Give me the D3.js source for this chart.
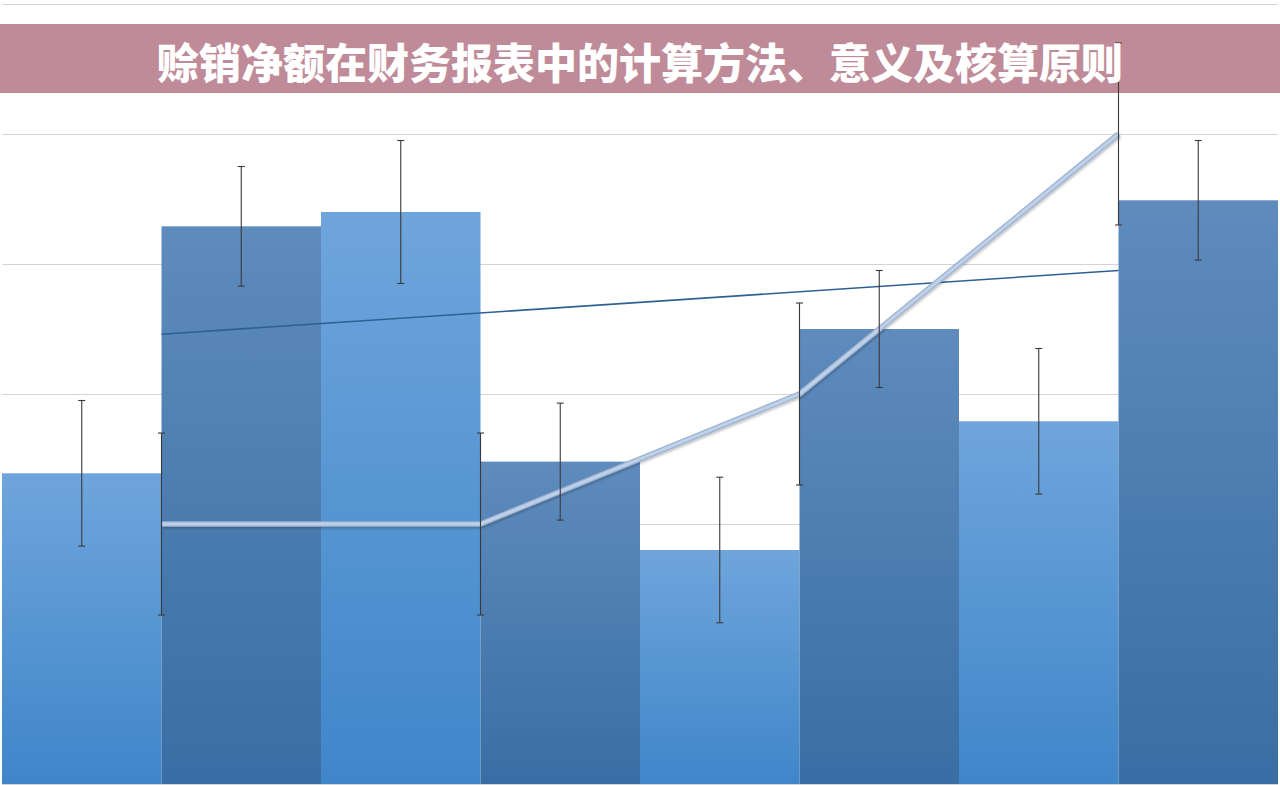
<!DOCTYPE html>
<html>
<head>
<meta charset="utf-8">
<script src="https://cdn.jsdelivr.net/npm/d3@7"></script>
<style>
  html, body { margin: 0; padding: 0; background: #fff; }
  svg { display: block; }
</style>
</head>
<body>
<div id="plot"></div>
<script>
// bar series, 8 columns
const categories = ['1', '2', '3', '4', '5', '6', '7', '8'];
const barValues = [2.39, 4.29, 4.4, 2.48, 1.8, 3.5, 2.79, 4.49];
const barErrors = [0.56, 0.46, 0.55, 0.45, 0.56, 0.45, 0.56, 0.46];

// line series sits on its own 4-step axis
const lineCategories = ['A', 'B', 'C', 'D'];
const lineValues = [2, 2, 3, 5];
const lineErrors = [0.7, 0.7, 0.7, 0.7];

// trend line, first and last point
const trendValues = [3.46, 3.95];

const gridTicks = [0, 1, 2, 3, 4, 5, 6];
const title = '赊销净额在财务报表中的计算方法、意义及核算原则';

const W = 1280, H = 785;

const svg = d3.select('#plot').append('svg')
  .attr('width', W)
  .attr('height', H);

const defs = svg.append('defs');

const addGrad = (id, top, bottom) => {
  const g = defs.append('linearGradient')
    .attr('id', id)
    .attr('x1', 0).attr('y1', 0).attr('x2', 0).attr('y2', 1);
  g.append('stop').attr('offset', '0%').attr('stop-color', top);
  g.append('stop').attr('offset', '100%').attr('stop-color', bottom);
};
addGrad('lightBar', '#6fa5dc', '#3f86c9');
addGrad('darkBar', '#5f8bbd', '#396ea4');

const shadow = defs.append('filter').attr('id', 'shadow')
  .attr('x', '-5%').attr('y', '-20%').attr('width', '110%').attr('height', '140%');
shadow.append('feDropShadow')
  .attr('dx', 1).attr('dy', 1.5).attr('stdDeviation', 1)
  .attr('flood-color', '#000').attr('flood-opacity', 0.25);

const xScale = d3.scaleBand()
  .domain(categories)
  .range([2, 1278])
  .padding(0);

const xLine = d3.scaleBand()
  .domain(lineCategories)
  .range([2, 1278])
  .padding(0);

const yScale = d3.scaleLinear()
  .domain([0, 6])
  .range([784, 4]);

// title banner
svg.append('rect')
  .attr('x', 0).attr('y', 24)
  .attr('width', W).attr('height', 69)
  .attr('fill', '#bf8b99');

// grid lines
svg.append('g')
  .attr('class', 'grid')
  .attr('transform', 'translate(2, 0)')
  .call(d3.axisLeft(yScale)
    .tickValues(gridTicks)
    .tickSize(-1276)
    .tickFormat(''))
  .call(g => g.select('.domain').remove())
  .call(g => g.selectAll('line').attr('stroke', '#d4d4d4').attr('stroke-width', 1));

// bars
svg.append('g').selectAll('rect')
  .data(barValues)
  .enter()
  .append('rect')
  .attr('x', (d, i) => xScale(categories[i]))
  .attr('y', d => yScale(d))
  .attr('width', xScale.bandwidth())
  .attr('height', d => yScale(0) - yScale(d))
  .attr('fill', (d, i) => i % 2 === 0 ? 'url(#lightBar)' : 'url(#darkBar)');

// trend line
svg.append('line')
  .attr('x1', xLine(lineCategories[0]) + xLine.bandwidth() / 2)
  .attr('x2', xLine(lineCategories[3]) + xLine.bandwidth() / 2)
  .attr('y1', yScale(trendValues[0]))
  .attr('y2', yScale(trendValues[1]))
  .attr('stroke', '#2e6193')
  .attr('stroke-width', 1.6);

// error bars
const drawErrors = (g, xs, vals, errs) => {
  vals.forEach((v, i) => {
    const x = xs[i];
    const y1 = yScale(v + errs[i]);
    const y2 = yScale(v - errs[i]);
    g.append('line').attr('x1', x).attr('x2', x).attr('y1', y1).attr('y2', y2);
    g.append('line').attr('x1', x - 3.5).attr('x2', x + 3.5).attr('y1', y1).attr('y2', y1);
    g.append('line').attr('x1', x - 3.5).attr('x2', x + 3.5).attr('y1', y2).attr('y2', y2);
  });
};

const errG = svg.append('g')
  .attr('stroke', '#3a3a3a')
  .attr('stroke-width', 1.1);

drawErrors(errG,
  categories.map(c => xScale(c) + xScale.bandwidth() / 2),
  barValues, barErrors);

// light line series
const line = d3.line()
  .x((d, i) => xLine(lineCategories[i]) + xLine.bandwidth() / 2)
  .y(d => yScale(d));

svg.append('path')
  .datum(lineValues)
  .attr('d', line)
  .attr('fill', 'none')
  .attr('stroke', '#9cb2d1')
  .attr('stroke-width', 5.5)
  .attr('stroke-linejoin', 'round')
  .attr('filter', 'url(#shadow)');

svg.append('path')
  .datum(lineValues)
  .attr('d', line)
  .attr('fill', 'none')
  .attr('stroke', '#bfd1e8')
  .attr('stroke-width', 3)
  .attr('stroke-linejoin', 'round');

drawErrors(errG.append('g'),
  lineCategories.map(c => xLine(c) + xLine.bandwidth() / 2),
  lineValues, lineErrors);
errG.raise();

// title text
svg.append('text')
  .attr('x', W / 2)
  .attr('y', 60)
  .attr('text-anchor', 'middle')
  .attr('dominant-baseline', 'central')
  .attr('font-family', '"Noto Sans CJK SC", sans-serif')
  .attr('font-weight', 900)
  .attr('font-size', 42)
  .attr('fill', '#fff')
  .text(title);
</script>
</body>
</html>
